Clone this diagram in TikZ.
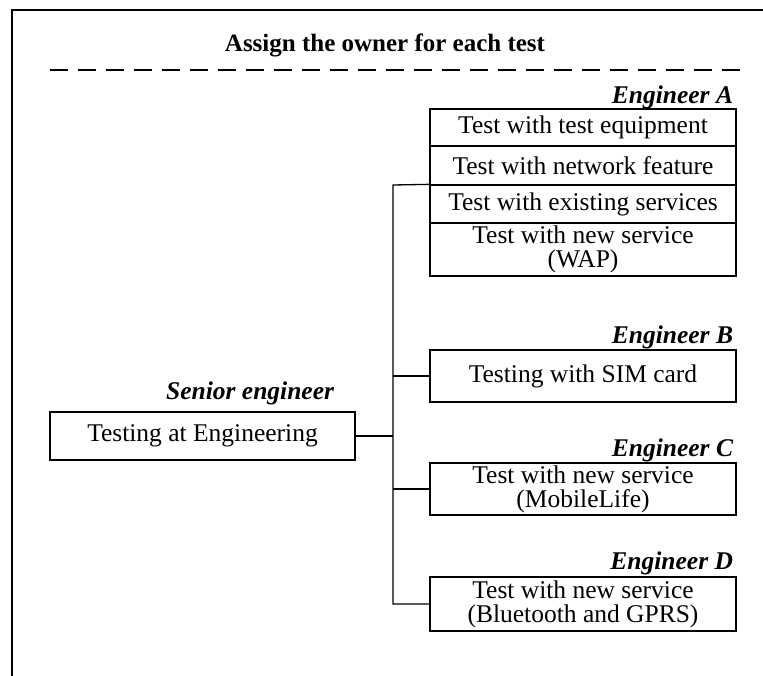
\documentclass[tikz,border=0pt]{standalone}
\usepackage{fontspec}
\setmainfont{Liberation Serif}

\begin{document}
\begin{tikzpicture}[x=1pt, y=-1pt, line width=1.3pt,
    every node/.style={font=\fontsize{25.5}{24}\selectfont},
    task/.style={draw, minimum width=306pt, inner sep=0pt, align=center},
    owner/.style={anchor=east, font=\fontsize{25.5}{28}\selectfont\bfseries\itshape}]
    \useasboundingbox (0,0) rectangle (763,676);

    % Frame
    \draw[line width=2pt] (12,676) -- (12,10) -- (763,10);
    \node[font=\fontsize{25}{28}\selectfont\bfseries] (title) at (385,45) {Assign the owner for each test};
    \draw[line width=2pt, dash pattern=on 18pt off 10pt] (50,70) -- (740,70);

    % Senior engineer
    \node[owner] (lsen) at (338,393) {Senior engineer};
    \node[task, minimum width=305pt, minimum height=48pt] (sen) at (202.5,436) {Testing at Engineering};

    % Engineer A
    \node[owner] (la) at (737,97) {Engineer A};
    \node[task, minimum height=37pt] (a1) at (583,127.5) {Test with test equipment};
    \node[task, minimum height=39pt] (a2) at (583,165.5) {Test with network feature};
    \node[task, minimum height=38pt] (a3) at (583,204) {Test with existing services};
    \node[task, minimum height=53pt] (a4) at (583,249.5) {Test with new service\\(WAP)};

    % Engineer B, C, D
    \node[owner] (lb) at (737,337) {Engineer B};
    \node[task, minimum height=52pt] (b) at (583,376) {Testing with SIM card};
    \node[owner] (lc) at (737,450) {Engineer C};
    \node[task, minimum height=52pt] (c) at (583,489) {Test with new service\\(MobileLife)};
    \node[owner] (ld) at (737,563) {Engineer D};
    \node[task, minimum height=54pt] (d) at (583,604) {Test with new service\\(Bluetooth and GPRS)};

    % Connectors
    \coordinate (bus) at (393,185);
    \draw (a3.north west) -- (bus) |- (d.west);
    \draw (b.west) -- (b.west -| bus);
    \draw (c.west) -- (c.west -| bus);
    \draw (sen.east) -- (sen.east -| bus);
\end{tikzpicture}
\end{document}
